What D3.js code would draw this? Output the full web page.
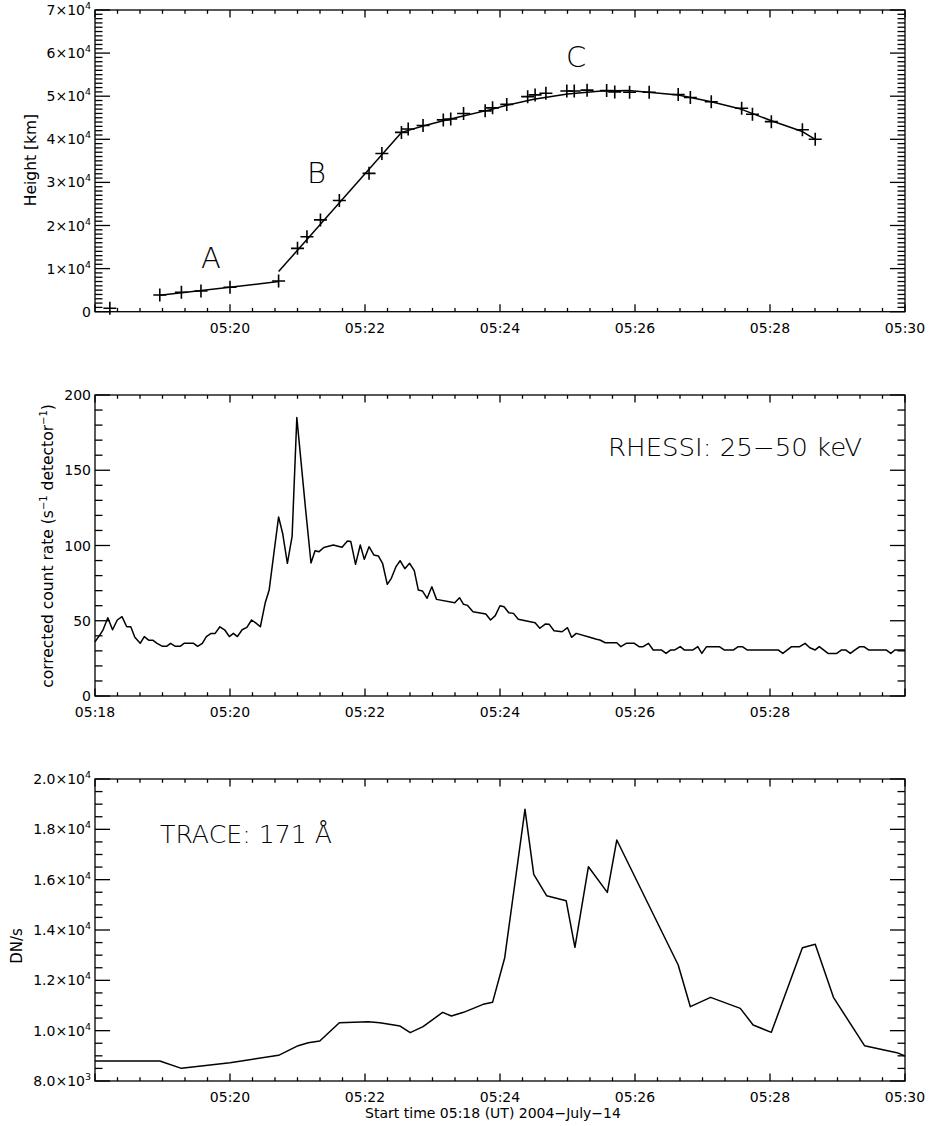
<!DOCTYPE html>
<html>
<head>
<meta charset="utf-8">
<script src="https://cdn.jsdelivr.net/npm/d3@7"></script>
<style>
  body { margin: 0; background: #fff; }
  svg { display: block; font-family: "DejaVu Sans", sans-serif; }
</style>
</head>
<body>
<svg id="chart" width="933" height="1126"></svg>
<script>
// all times are minutes after 05:00 UT

// height-time measurements (crosses)
const heightTime = [18.22, 18.96, 19.28, 19.57, 20.00, 20.72, 21.00, 21.14, 21.34, 21.62,
  22.06, 22.25, 22.54, 22.64, 22.86, 23.16, 23.27, 23.46, 23.78, 23.89, 24.10, 24.41,
  24.52, 24.68, 24.99, 25.10, 25.29, 25.58, 25.70, 25.92, 26.21, 26.64, 26.82, 27.13,
  27.58, 27.74, 28.02, 28.48, 28.67];
const heightKm = [800, 3870, 4500, 4800, 5660, 7120, 14700, 17400, 21300, 25800,
  32100, 36700, 41600, 42400, 43200, 44500, 44700, 46000, 46600, 47300, 48100, 49900,
  50300, 50700, 51200, 51200, 51400, 51300, 51000, 50900, 50900, 50400, 49700, 48700,
  47200, 45800, 44100, 42200, 40000];

// fitted phases A, B, C
const fitATime = [18.96, 20.72];
const fitAKm = [3800, 7000];
const fitBTime = [20.72, 22.54];
const fitBKm = [9300, 41600];
const fitCTime = [22.54, 22.86, 23.16, 23.50, 23.89, 24.10, 24.50, 25.00, 25.50, 25.90,
  26.20, 26.64, 27.13, 27.58, 28.02, 28.48, 28.67];
const fitCKm = [41600, 43100, 44300, 45600, 47000, 47900, 49300, 50500, 51200, 51300,
  50900, 50300, 48700, 46950, 44300, 41800, 40000];

// RHESSI 25-50 keV corrected count rate
const hxrTime = [18.00, 18.07, 18.12, 18.19, 18.26, 18.33, 18.40, 18.47, 18.53, 18.59,
  18.67, 18.73, 18.80, 18.86, 18.92, 19.00, 19.06, 19.12, 19.19, 19.26, 19.32, 19.39,
  19.46, 19.52, 19.59, 19.65, 19.72, 19.78, 19.85, 19.92, 19.99, 20.05, 20.11, 20.18,
  20.25, 20.32, 20.39, 20.45, 20.52, 20.58, 20.65, 20.72, 20.78, 20.85, 20.92, 20.99,
  21.12, 21.20, 21.26, 21.32, 21.39, 21.46, 21.53, 21.66, 21.74, 21.79, 21.86, 21.93,
  21.99, 22.06, 22.13, 22.20, 22.26, 22.33, 22.39, 22.46, 22.52, 22.59, 22.66, 22.73,
  22.79, 22.85, 22.92, 22.99, 23.06, 23.33, 23.40, 23.46, 23.52, 23.60, 23.79, 23.86,
  23.93, 24.00, 24.06, 24.13, 24.20, 24.27, 24.52, 24.59, 24.67, 24.73, 24.80, 24.92,
  25.00, 25.06, 25.13, 25.33, 25.43, 25.48, 25.56, 25.73, 25.79, 25.87, 25.99, 26.06,
  26.12, 26.20, 26.27, 26.39, 26.46, 26.53, 26.59, 26.67, 26.73, 26.86, 26.93, 26.99,
  27.06, 27.25, 27.32, 27.46, 27.53, 27.59, 27.66, 28.12, 28.19, 28.32, 28.44, 28.52,
  28.59, 28.67, 28.73, 28.86, 28.99, 29.06, 29.12, 29.19, 29.26, 29.33, 29.39, 29.46,
  29.72, 29.79, 29.85, 30.00];
const hxrRate = [36, 40.5, 44, 52, 44, 50.5, 52.7, 46, 46, 39,
  35, 39.5, 37, 37, 35, 33, 33, 35, 33, 33, 35, 35,
  35, 33, 35, 39.5, 41.6, 41.6, 46, 44, 39.5, 41.6, 39.5, 44,
  45.6, 50.5, 48.3, 46, 61.6, 70.4, 94.8, 119, 108, 88.2, 106, 185,
  124, 88.4, 96.5, 95.9, 98.7, 99.5, 100.3, 98.8, 103, 102.6, 87.5, 100.3,
  90.8, 99.2, 93.7, 93, 88.2, 74.2, 78.2, 86, 89.9, 84.6, 88.2, 83.3,
  70.4, 69.8, 64.9, 72.6, 64.2, 62, 65.3, 60.9, 60.2, 56, 54.5, 50.5,
  53.4, 60, 59.3, 55.3, 54.9, 51, 48.7, 45, 47.8, 47.6, 43.4, 42.7,
  45.4, 39, 41.6, 39, 37.7, 37.2, 35.4, 35.4, 32.8, 35, 35, 32.8,
  32.8, 35, 30.6, 30.6, 28.3, 30.6, 30.6, 32.8, 30.6, 30.6, 32.8, 28.3,
  32.8, 32.8, 30.6, 30.6, 32.8, 32.8, 30.6, 30.6, 28.3, 32.8, 32.8, 35,
  32.1, 30.6, 32.8, 28.3, 28.3, 30.6, 30.6, 28.3, 30.6, 32.8, 32.8, 30.6,
  30.6, 28.3, 30.6, 30.6];

// TRACE 171 A light curve
const euvTime = [18.00, 18.96, 19.28, 20.00, 20.72, 21.01, 21.16, 21.33, 21.62, 22.05,
  22.22, 22.52, 22.67, 22.86, 23.15, 23.28, 23.46, 23.75, 23.89, 24.07, 24.37, 24.50,
  24.69, 24.98, 25.11, 25.31, 25.59, 25.73, 26.64, 26.82, 27.12, 27.56, 27.75, 28.02,
  28.48, 28.67, 28.94, 29.40, 29.88, 30.00];
const euvFlux = [8795, 8795, 8503, 8727, 9020, 9403, 9520, 9590, 10317, 10357,
  10317, 10185, 9920, 10159, 10728, 10582, 10729, 11046, 11126, 12899, 18795, 16212,
  15364, 15163, 13311, 16515, 15496, 17575, 12609, 10953, 11324, 10887, 10225, 9934,
  13297, 13430, 11324, 9404, 9126, 8993];

const zip = (a, b) => a.map((d, i) => [d, b[i]]);

const svg = d3.select("#chart");

const x = d3.scaleLinear().domain([18, 30]).range([95, 905]);
const xMinor = d3.range(0, 37).map(i => 18 + i / 3);

const near = (a, b) => Math.abs(a - b) < 1e-6;

// IDL-style box: inward ticks on all four sides
const drawFrame = (y, { step, minor, format, xLabels }) => {
  const [left, right] = x.range();
  const [bottom, top] = y.range();
  const [lo, hi] = y.domain();

  const g = svg.append("g")
    .attr("stroke", "#000")
    .attr("stroke-width", 1.3)
    .attr("fill", "none");

  g.append("rect")
    .attr("x", left)
    .attr("y", top)
    .attr("width", right - left)
    .attr("height", bottom - top);

  const isMajorX = d => near(d / 2, Math.round(d / 2));
  const xLen = d => isMajorX(d) ? 7.5 : 3.8;

  xMinor.forEach(d => {
    g.append("line")
      .attr("x1", x(d)).attr("x2", x(d))
      .attr("y1", bottom).attr("y2", bottom - xLen(d));
    g.append("line")
      .attr("x1", x(d)).attr("x2", x(d))
      .attr("y1", top).attr("y2", top + xLen(d));
  });

  const n = Math.round((hi - lo) / minor);
  const yTicks = d3.range(0, n + 1).map(i => lo + i * minor);
  const isMajorY = d => near((d - lo) / step, Math.round((d - lo) / step));
  const yLen = d => isMajorY(d) ? 15 : 7.5;

  yTicks.forEach(d => {
    g.append("line")
      .attr("x1", left).attr("x2", left + yLen(d))
      .attr("y1", y(d)).attr("y2", y(d));
    g.append("line")
      .attr("x1", right).attr("x2", right - yLen(d))
      .attr("y1", y(d)).attr("y2", y(d));
  });

  svg.append("g")
    .selectAll("text")
    .data(xLabels)
    .join("text")
    .attr("x", d => x(d))
    .attr("y", bottom + 21)
    .attr("text-anchor", "middle")
    .style("font-size", "14px")
    .text(d => "05:" + d);

  const labels = svg.append("g")
    .selectAll("text")
    .data(yTicks.filter(isMajorY))
    .join("text")
    .attr("x", left - 4)
    .attr("y", d => y(d) + 5)
    .attr("text-anchor", "end")
    .style("font-size", "14px");

  labels.each(function (d) {
    const [base, exp] = format(d);
    const t = d3.select(this);
    t.append("tspan").text(base);
    if (exp) {
      t.append("tspan")
        .attr("dy", -6)
        .style("font-size", "9.5px")
        .text(exp);
    }
  });
};

const line = (y) => d3.line().x(d => x(d[0])).y(d => y(d[1]));

const drawLine = (y, data) => svg.append("path")
  .datum(data)
  .attr("fill", "none")
  .attr("stroke", "#000")
  .attr("stroke-width", 1.5)
  .attr("stroke-linejoin", "round")
  .attr("d", line(y));

const annotate = (px, py, text, size, len) => {
  const t = svg.append("text")
    .attr("x", px)
    .attr("y", py)
    .style("font-size", size + "px")
    .style("font-weight", 200)
    .text(text);
  if (len) t.attr("textLength", len).attr("lengthAdjust", "spacingAndGlyphs");
  return t;
};

const yTitle = (px, py, size) => svg.append("text")
  .attr("transform", `translate(${px},${py}) rotate(-90)`)
  .attr("text-anchor", "middle")
  .style("font-size", size + "px");

// ---- panel 1: height-time ----
const yH = d3.scaleLinear().domain([0, 70000]).range([311.7, 10]);

drawFrame(yH, {
  step: 10000,
  minor: 1000,
  format: d => d === 0 ? ["0"] : [`${d / 10000}×10`, "4"],
  xLabels: [20, 22, 24, 26, 28, 30],
});

drawLine(yH, zip(fitATime, fitAKm));
drawLine(yH, zip(fitBTime, fitBKm));
drawLine(yH, zip(fitCTime, fitCKm));

svg.append("g")
  .selectAll("path")
  .data(zip(heightTime, heightKm))
  .join("path")
  .attr("transform", d => `translate(${x(d[0])},${yH(d[1])})`)
  .attr("d", "M-6.5,0H6.5M0,-6.5V6.5")
  .attr("stroke", "#000")
  .attr("stroke-width", 1.6);

annotate(201, 268, "A", 29);
annotate(307, 183, "B", 29);
annotate(566, 67, "C", 29);

yTitle(36, 160, 15.5).text("Height [km]");

// ---- panel 2: RHESSI ----
const yR = d3.scaleLinear().domain([0, 200]).range([696, 395]);

drawFrame(yR, {
  step: 50,
  minor: 10,
  format: d => [String(d)],
  xLabels: [18, 20, 22, 24, 26, 28],
});

drawLine(yR, zip(hxrTime, hxrRate));

annotate(608, 456, "RHESSI: 25−50 keV", 25, 254);

const rt = yTitle(53, 546, 15.5);
rt.append("tspan").text("corrected count rate (s");
rt.append("tspan").attr("dy", -6).style("font-size", "10px").text("−1");
rt.append("tspan").attr("dy", 6).text(" detector");
rt.append("tspan").attr("dy", -6).style("font-size", "10px").text("−1");
rt.append("tspan").attr("dy", 6).text(")");

// ---- panel 3: TRACE ----
const yT = d3.scaleLinear().domain([8000, 20000]).range([1081, 779]);

drawFrame(yT, {
  step: 2000,
  minor: 500,
  format: d => d < 10000 ? [`${(d / 1000).toFixed(1)}×10`, "3"] : [`${(d / 10000).toFixed(1)}×10`, "4"],
  xLabels: [20, 22, 24, 26, 28, 30],
});

drawLine(yT, zip(euvTime, euvFlux));

annotate(160, 843, "TRACE: 171 Å", 25, 172);

yTitle(22, 946, 15).text("DN/s");

svg.append("text")
  .attr("x", 493)
  .attr("y", 1118)
  .attr("text-anchor", "middle")
  .style("font-size", "14px")
  .text("Start time 05:18 (UT) 2004−July−14");
</script>
</body>
</html>
